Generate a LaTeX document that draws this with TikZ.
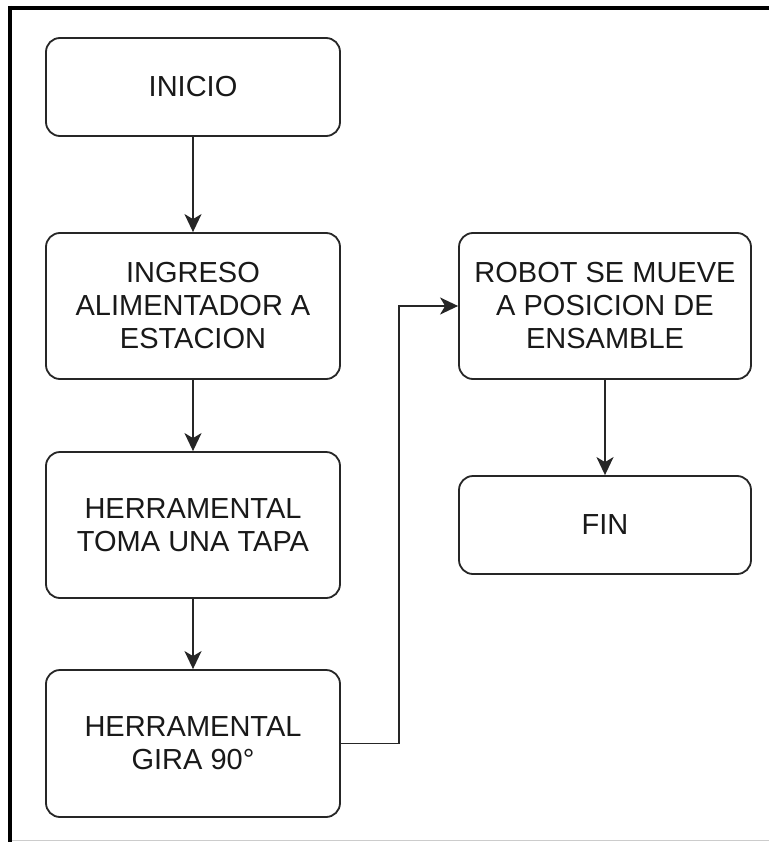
\documentclass[tikz,border=0pt]{standalone}
\usepackage{fontspec}
\setmainfont{Liberation Sans}
\usetikzlibrary{arrows.meta}
\begin{document}
\begin{tikzpicture}[x=1pt,y=-1pt,
  box/.style={draw=black!85, line width=1.8pt, rounded corners=14pt, align=center,
    inner sep=0pt, font=\fontsize{29}{33}\selectfont, text=black!90},
  conn/.style={draw=black!85, line width=1.8pt, -{Stealth[length=18pt,width=17pt,inset=5pt]}}]
\useasboundingbox (0,0) rectangle (769,842);
\fill[white] (0,0) rectangle (769,842);
% frame
\draw[line width=4pt] (8,8) -- (769,8);
\draw[line width=4pt] (10,6) -- (10,842);
\draw[black!20, line width=1.5pt] (12,840.5) -- (769,840.5);
% nodes
\node[box, minimum width=294pt, minimum height=98pt] (n1) at (193,87) {INICIO};
\node[box, minimum width=294pt, minimum height=146pt] (n2) at (193,306) {INGRESO\\ALIMENTADOR A\\ESTACION};
\node[box, minimum width=294pt, minimum height=146pt] (n3) at (193,525) {HERRAMENTAL\\TOMA UNA TAPA};
\node[box, minimum width=294pt, minimum height=147pt] (n4) at (193,743.5) {HERRAMENTAL\\GIRA 90°};
\node[box, minimum width=292pt, minimum height=146pt] (n5) at (605,306) {ROBOT SE MUEVE\\A POSICION DE\\ENSAMBLE};
\node[box, minimum width=292pt, minimum height=98pt] (n6) at (605,525) {FIN};
\coordinate (k) at (399,0);
% connectors
\draw[conn] (n1) -- (n2);
\draw[conn] (n2) -- (n3);
\draw[conn] (n3) -- (n4);
\draw[conn] (n4.east) -- (k |- n4.east) -- (k |- n5.west) -- (n5.west);
\draw[conn] (n5) -- (n6);
\end{tikzpicture}
\end{document}
